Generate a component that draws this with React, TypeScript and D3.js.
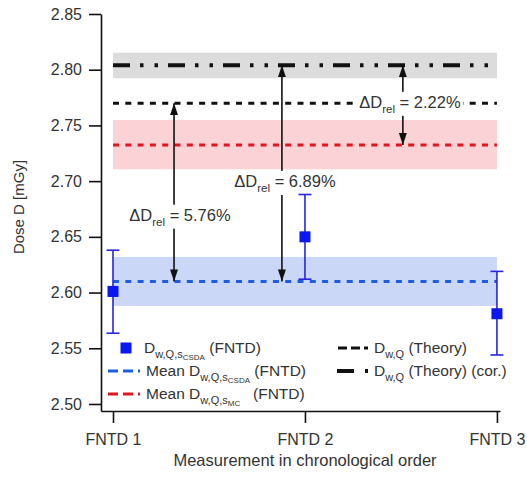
import React, { useEffect, useRef } from 'react';
import * as d3 from 'd3';

// measurements (FNTD 1..3)
const categories = ['FNTD 1', 'FNTD 2', 'FNTD 3'];
const measuredDose = [2.601, 2.65, 2.581];
const doseLow = [2.5635, 2.612, 2.544];
const doseHigh = [2.638, 2.688, 2.619];

// horizontal reference levels
const meanCSDA = 2.61;
const meanCSDABand = [2.588, 2.632];
const meanMC = 2.7325;
const meanMCBand = [2.7106, 2.7549];
const theory = 2.77;
const theoryCor = 2.804;
const theoryCorBand = [2.7923, 2.8153];

// tick labels
const yTicks = [2.5, 2.55, 2.6, 2.65, 2.7, 2.75, 2.8, 2.85];

// relative-difference annotations
const deltaText = ['5.76%', '6.89%', '2.22%'];
const deltaX = [1.318, 1.88, 2.51];
const deltaFrom = [theory, theoryCor, theoryCor];
const deltaTo = [meanCSDA, meanCSDA, meanMC];
const deltaLabelX = [1.349, 1.896, 2.547];
const deltaLabelY = [2.6697, 2.7, 2.771];

const FONT = '"Liberation Sans", Arial, Helvetica, sans-serif';
const W = 527;
const H = 479;

const App = () => {
  const ref = useRef<SVGSVGElement>(null);

  useEffect(() => {
    const svg = d3.select(ref.current);
    svg.selectAll('*').remove();

    const x = d3.scaleLinear().domain([0.9375, 3.016]).range([101, 500]);
    const y = d3.scaleLinear().domain([2.4937, 2.85]).range([411, 14]);
    const xs = [1, 2, 3];

    const defs = svg.append('defs');
    defs.append('marker')
      .attr('id', 'head')
      .attr('viewBox', '0 -4 12 8')
      .attr('refX', 12)
      .attr('refY', 0)
      .attr('markerUnits', 'userSpaceOnUse')
      .attr('markerWidth', 12)
      .attr('markerHeight', 8)
      .attr('orient', 'auto-start-reverse')
      .append('path')
      .attr('d', 'M0,-4L12,0L0,4Z')
      .attr('fill', '#111');

    // bands
    const bands = [
      { b: theoryCorBand, c: '#dcdcdc' },
      { b: meanMCBand, c: '#fbd2d5' },
      { b: meanCSDABand, c: '#cbd7f7' },
    ];
    svg.selectAll('rect.band')
      .data(bands)
      .enter().append('rect')
      .attr('class', 'band')
      .attr('x', x(1))
      .attr('width', x(3) - x(1))
      .attr('y', d => y(d.b[1]))
      .attr('height', d => y(d.b[0]) - y(d.b[1]))
      .attr('fill', d => d.c);

    // reference lines
    const lines = [
      { v: theoryCor, c: '#111', w: 4, dash: '17,10,3.5,11,3.5,10' },
      { v: theory, c: '#111', w: 3, dash: '6,6.3' },
      { v: meanMC, c: '#e3151d', w: 3, dash: '6,6.3' },
      { v: meanCSDA, c: '#1d5de6', w: 3, dash: '6,6.3' },
    ];
    svg.selectAll('line.ref')
      .data(lines)
      .enter().append('line')
      .attr('class', 'ref')
      .attr('x1', x(1))
      .attr('x2', x(3))
      .attr('y1', d => y(d.v))
      .attr('y2', d => y(d.v))
      .attr('stroke', d => d.c)
      .attr('stroke-width', d => d.w)
      .attr('stroke-dasharray', d => d.dash);

    // arrows
    deltaText.forEach((t, i) => {
      svg.append('line')
        .attr('x1', x(deltaX[i]))
        .attr('x2', x(deltaX[i]))
        .attr('y1', y(deltaFrom[i]))
        .attr('y2', y(deltaTo[i]))
        .attr('stroke', '#111')
        .attr('stroke-width', 1.6)
        .attr('marker-start', 'url(#head)')
        .attr('marker-end', 'url(#head)');

      const g = svg.append('g');
      const txt = g.append('text')
        .attr('x', x(deltaLabelX[i]))
        .attr('y', y(deltaLabelY[i]))
        .attr('dy', '0.35em')
        .attr('text-anchor', 'middle')
        .attr('font-family', FONT)
        .attr('font-size', 16.5)
        .attr('fill', '#333');
      txt.append('tspan').text('\u0394D');
      txt.append('tspan').attr('font-size', 11.5).attr('dy', 5).text('rel');
      txt.append('tspan').attr('dy', -5).text(' = ' + t);
      const bb = (txt.node() as SVGTextElement).getBBox();
      g.insert('rect', 'text')
        .attr('x', bb.x - 2)
        .attr('y', bb.y - 1)
        .attr('width', bb.width + 4)
        .attr('height', bb.height + 2)
        .attr('fill', '#fff');
    });

    // axes
    const yAxis = svg.append('g')
      .attr('transform', `translate(${x.range()[0]},0)`)
      .call(d3.axisLeft(y).tickValues(yTicks).tickFormat(d3.format('.2f')).tickSize(12).tickSizeOuter(0).tickPadding(7));
    const xAxis = svg.append('g')
      .attr('transform', `translate(0,${y.range()[0]})`)
      .call(d3.axisBottom(x).tickValues(xs).tickFormat((d, i) => categories[i]).tickSize(12).tickSizeOuter(0).tickPadding(11));
    [yAxis, xAxis].forEach(a => {
      a.selectAll('path, line').attr('stroke', '#111').attr('stroke-width', 1.6);
      a.selectAll('text').attr('font-family', FONT).attr('font-size', 16).attr('fill', '#333');
    });

    svg.append('text')
      .attr('x', 305).attr('y', 466)
      .attr('text-anchor', 'middle')
      .attr('font-family', FONT).attr('font-size', 16.5).attr('fill', '#333')
      .text('Measurement in chronological order');
    svg.append('text')
      .attr('transform', 'translate(24,207) rotate(-90)')
      .attr('text-anchor', 'middle')
      .attr('font-family', FONT).attr('font-size', 15).attr('fill', '#333')
      .text('Dose D [mGy]');

    // error bars + markers
    const pts = svg.selectAll('g.pt')
      .data(measuredDose.map((v, i) => ({ x: xs[i], v, lo: doseLow[i], hi: doseHigh[i] })))
      .enter().append('g').attr('class', 'pt');
    pts.append('line')
      .attr('x1', d => x(d.x)).attr('x2', d => x(d.x))
      .attr('y1', d => y(d.lo)).attr('y2', d => y(d.hi))
      .attr('stroke', '#2626e0').attr('stroke-width', 1.6);
    [d => d.lo, d => d.hi].forEach(f => {
      pts.append('line')
        .attr('x1', d => x(d.x) - 6.5).attr('x2', d => x(d.x) + 6.5)
        .attr('y1', d => y(f(d))).attr('y2', d => y(f(d)))
        .attr('stroke', '#2626e0').attr('stroke-width', 1.6);
    });
    pts.append('rect')
      .attr('x', d => x(d.x) - 5.5).attr('y', d => y(d.v) - 5.5)
      .attr('width', 11).attr('height', 11)
      .attr('fill', '#0b16f5');

    // legend
    const lg = svg.append('g')
      .attr('font-family', FONT).attr('font-size', 15.5).attr('fill', '#333');
    const rowY = [348, 371, 394];
    const addLabel = (tx: number, ty: number, pre: string, sub: string, subsub: string, post: string, postX?: number) => {
      const t = lg.append('text').attr('x', tx).attr('y', ty).attr('dy', '0.35em');
      t.append('tspan').text(pre + 'D');
      t.append('tspan').attr('font-size', 11).attr('dy', 4.5).text(sub);
      if (subsub) t.append('tspan').attr('font-size', 8).attr('dy', 2.5).text(subsub);
      const p = t.append('tspan').attr('dy', subsub ? -7 : -4.5).text(post);
      if (postX) p.attr('x', postX);
    };
    lg.append('rect').attr('x', 120.5).attr('y', rowY[0] - 5.5).attr('width', 11).attr('height', 11).attr('fill', '#0b16f5');
    addLabel(144, rowY[0], '', 'w,Q,s', 'CSDA', ' (FNTD)');
    lg.append('line').attr('x1', 108).attr('x2', 140).attr('y1', rowY[1]).attr('y2', rowY[1])
      .attr('stroke', '#1d5de6').attr('stroke-width', 3).attr('stroke-dasharray', '10,5');
    addLabel(146, rowY[1], 'Mean ', 'w,Q,s', 'CSDA', ' (FNTD)');
    lg.append('line').attr('x1', 108).attr('x2', 140).attr('y1', rowY[2]).attr('y2', rowY[2])
      .attr('stroke', '#e3151d').attr('stroke-width', 3).attr('stroke-dasharray', '10,5');
    addLabel(146, rowY[2], 'Mean ', 'w,Q,s', 'MC', '(FNTD)', 253);

    lg.append('line').attr('x1', 338).attr('x2', 368).attr('y1', rowY[0]).attr('y2', rowY[0])
      .attr('stroke', '#111').attr('stroke-width', 3).attr('stroke-dasharray', '9,4');
    addLabel(374, rowY[0], '', 'w,Q', '', ' (Theory)');
    lg.append('line').attr('x1', 337).attr('x2', 368).attr('y1', rowY[1]).attr('y2', rowY[1])
      .attr('stroke', '#111').attr('stroke-width', 4).attr('stroke-dasharray', '17,11,3,10');
    addLabel(374, rowY[1], '', 'w,Q', '', ' (Theory) (cor.)');
  }, []);

  return (
    <svg ref={ref} width={W} height={H} style={{ position: 'absolute', left: 0, top: 0, background: '#fff' }} />
  );
};

export default App;
